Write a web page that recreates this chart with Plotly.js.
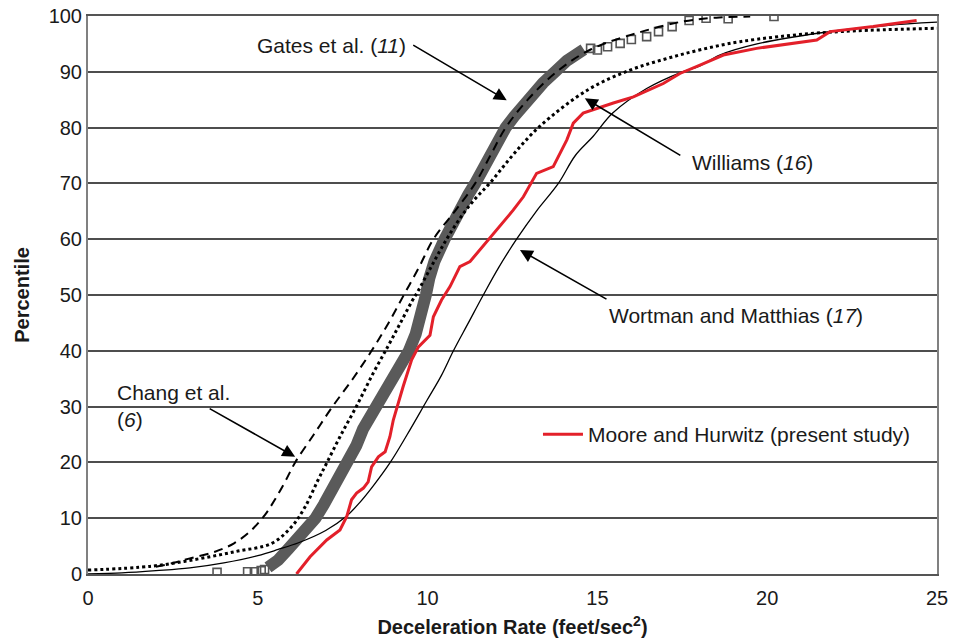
<!DOCTYPE html>
<html>
<head>
<meta charset="utf-8">
<script src="https://cdn.plot.ly/plotly-3.0.1.min.js"></script>
<style>html,body{margin:0;padding:0;background:#fff;}#chart{width:955px;height:643px;}</style>
</head>
<body>
<div id="chart"></div>
<script>
// ---- data ----
const xTicks = [0, 5, 10, 15, 20, 25];
const yTicks = [0, 10, 20, 30, 40, 50, 60, 70, 80, 90, 100];

// Gates et al. (11) observed data: dense band (centre of band)
const gatesBandX = [5.3, 5.6, 5.9, 6.2, 6.45, 6.7, 6.95, 7.2, 7.45, 7.65, 7.9, 8.1, 8.35, 8.5, 8.75, 9.0, 9.25, 9.45, 9.65, 9.8, 9.95, 10.05, 10.2, 10.5, 10.75, 10.95, 11.2, 11.4, 11.65, 11.9, 12.1, 12.3, 12.55, 12.8, 13.1, 13.4, 13.75, 14.1, 14.6];
const gatesBandY = [1.2, 2.5, 4.5, 6.5, 8.5, 10, 12.5, 15, 18, 20, 23, 26, 28.5, 30, 33, 36, 38.5, 40, 43, 46, 50, 53, 56, 60, 63, 66, 68, 70, 73, 76, 78, 80, 82, 84, 86, 88, 90, 92, 94];
// Gates et al. sparse tail points (open squares)
const gatesTailX = [3.8, 4.7, 4.9, 5.1, 5.2, 14.8, 15.0, 15.3, 15.67, 16.0, 16.45, 16.8, 17.2, 17.7, 18.2, 18.85, 20.2];
const gatesTailY = [0.3, 0.4, 0.4, 0.6, 0.8, 94.2, 93.9, 94.5, 95.1, 95.8, 96.3, 97.2, 98.1, 99.2, 99.6, 99.5, 99.9];

// Wortman and Matthias (17)
const wortmanX = [0, 1, 2, 3, 4, 5, 5.6, 6.2, 7.0, 7.6, 8.0, 8.4, 8.9, 9.4, 9.97, 10.4, 10.76, 11.2, 11.64, 12.1, 12.62, 13.2, 13.85, 14.35, 14.87, 15.45, 16.45, 17.5, 18.0, 18.6, 19.7, 21.6, 23.5, 25];
const wortmanY = [0, 0.2, 0.6, 1.1, 2.0, 3.3, 4.4, 5.6, 7.8, 10.3, 12.8, 15.8, 20, 25, 31, 35.5, 40, 45, 50, 55, 60, 65, 70, 75, 78.4, 82.6, 87, 90, 91, 93, 95, 97, 98.3, 98.9];

// Williams (16)
const williamsX = [0, 1.88, 3.15, 4.33, 5.41, 6.0, 6.39, 6.77, 7.03, 7.42, 7.9, 8.4, 8.85, 9.2, 9.55, 9.7, 10.1, 10.56, 11.04, 11.44, 11.84, 12.5, 13.3, 14.7, 15.96, 17.0, 18.0, 19.2, 21.6, 25];
const williamsY = [0.7, 1.4, 2.6, 4, 5.5, 8.5, 12, 16.8, 19.9, 24.6, 30, 36, 41, 45, 49, 50.5, 55, 60, 64.5, 67.5, 70.1, 75, 80.2, 86.7, 90.3, 92.3, 93.9, 95.4, 97.0, 97.8];

// Chang et al. (6)
const changX = [2.0, 2.46, 3.0, 3.74, 4.3, 4.8, 5.2, 5.5, 5.8, 6.1, 6.65, 7.2, 7.8, 8.35, 8.85, 9.3, 9.75, 10.17, 10.8, 11.4, 11.85, 12.3, 12.95, 13.8, 14.8, 16.2, 17.5, 18.5, 19.5];
const changY = [1.3, 1.9, 2.8, 4, 5.5, 7.8, 10.5, 13.3, 16.5, 20, 25, 30, 35, 40, 45, 50, 55, 60, 65, 70, 75, 80, 85, 90, 94, 97, 99, 99.7, 99.9];

// Moore and Hurwitz (present study)
const mooreX = [6.14, 6.54, 7.03, 7.42, 7.62, 7.76, 7.91, 8.11, 8.25, 8.35, 8.55, 8.75, 8.89, 8.99, 9.28, 9.53, 9.73, 10.07, 10.17, 10.41, 10.66, 10.9, 10.95, 11.25, 11.54, 11.84, 12.13, 12.52, 12.82, 13.21, 13.7, 14.1, 14.29, 14.58, 15.47, 16.06, 16.94, 17.43, 18.02, 18.71, 19.69, 21.46, 21.85, 23.12, 24.4];
const mooreY = [0, 3.1, 6.1, 7.9, 10.3, 13.3, 14.5, 15.4, 16.5, 19.2, 21.0, 21.9, 24.6, 27.6, 33.6, 38.4, 40.7, 42.8, 46.1, 49.1, 51.5, 54.5, 55.1, 56.0, 58.1, 60.2, 62.2, 65.2, 67.6, 71.8, 73.0, 77.8, 80.8, 82.6, 84.4, 85.5, 87.9, 89.7, 91.2, 93.0, 94.2, 95.7, 97.2, 98.1, 99.2];

const seriesNames = ['Gates et al. (11)', 'Williams (16)', 'Wortman and Matthias (17)', 'Chang et al. (6)', 'Moore and Hurwitz (present study)'];

// ---- traces ----
const FONT = 'Liberation Sans, Arial, Helvetica, sans-serif';
const traces = [
  {x: gatesBandX, y: gatesBandY, type: 'scatter', mode: 'lines', name: seriesNames[0],
   line: {color: '#5a5a5a', width: 12}, showlegend: false, hoverinfo: 'skip'},
  {x: gatesTailX, y: gatesTailY, type: 'scatter', mode: 'markers', name: seriesNames[0],
   marker: {symbol: 'square-open', size: 8, color: '#555', line: {width: 1.6, color: '#555'}}, showlegend: false},
  {x: wortmanX, y: wortmanY, type: 'scatter', mode: 'lines', name: seriesNames[2], line: {color: '#000', width: 1.3, shape: 'spline', smoothing: 1}, showlegend: false},
  {x: williamsX, y: williamsY, type: 'scatter', mode: 'lines', name: seriesNames[1], line: {color: '#000', width: 3, dash: '3px,3px', shape: 'spline', smoothing: 1}, showlegend: false},
  {x: changX, y: changY, type: 'scatter', mode: 'lines', name: seriesNames[3], line: {color: '#000', width: 2, dash: '9px,6px', shape: 'spline', smoothing: 1}, showlegend: false},
  {x: mooreX, y: mooreY, type: 'scatter', mode: 'lines', name: seriesNames[4], line: {color: '#e3202a', width: 3}, showlegend: true}
];

function arrow(x, y, ax, ay) {
  return {x: x, y: y, xref: 'x', yref: 'y', ax: ax, ay: ay, axref: 'pixel', ayref: 'pixel',
    text: '', showarrow: true, arrowhead: 2, arrowsize: 1.6, arrowwidth: 1.6, arrowcolor: '#000', standoff: 0, startstandoff: 0};
}
function label(x, y, text, anchor) {
  return {x: x, y: y, xref: 'x', yref: 'y', text: text, showarrow: false, xanchor: anchor || 'center', yanchor: 'middle', align: 'left',
    font: {family: FONT, size: 21, color: '#1a1a1a'}};
}

const layout = {
  width: 955, height: 643,
  margin: {l: 88, r: 18, t: 16, b: 69},
  paper_bgcolor: '#fff', plot_bgcolor: '#fff',
  font: {family: FONT, color: '#1a1a1a'},
  xaxis: {range: [0, 25], tickvals: xTicks, ticktext: xTicks.map(String), showgrid: false, zeroline: false,
    showline: true, mirror: true, linecolor: '#555', linewidth: 2, ticks: '', ticklabelstandoff: 5,
    tickfont: {family: FONT, size: 20, color: '#1a1a1a'},
    title: {text: '<b>Deceleration Rate (feet/sec<sup>2</sup>)</b>', font: {family: FONT, size: 20, color: '#1a1a1a'}, standoff: 12}},
  yaxis: {range: [0, 100], tickvals: yTicks, ticktext: yTicks.map(String), showgrid: true, gridcolor: '#4d4d4d', gridwidth: 2,
    zeroline: false, showline: true, mirror: true, linecolor: '#808080', linewidth: 2, ticks: '',
    tickfont: {family: FONT, size: 20, color: '#1a1a1a'},
    title: {text: '<b>Percentile</b>', font: {family: FONT, size: 20, color: '#1a1a1a'}, standoff: 14}},
  showlegend: true,
  legend: {x: 0.53, y: 0.25, xanchor: 'left', yanchor: 'middle', bgcolor: 'rgba(0,0,0,0)', itemwidth: 40,
    font: {family: FONT, size: 21, color: '#1a1a1a'}},
  annotations: [
    arrow(12.33, 84.9, -95, -56),
    arrow(14.63, 85.25, 97, 58),
    arrow(12.72, 58.06, 88, 50),
    arrow(6.10, 21.0, -87, -49),
    label(7.16, 94.8, 'Gates et al. (<i>11</i>)'),
    label(19.58, 73.8, 'Williams (<i>16</i>)'),
    label(19.08, 46.4, 'Wortman and Matthias (<i>17</i>)'),
    label(0.8, 30.1, 'Chang et al.<br>(<i>6</i>)', 'left')
  ]
};

Plotly.newPlot('chart', traces, layout, {displayModeBar: false, staticPlot: true});
</script>
</body>
</html>
